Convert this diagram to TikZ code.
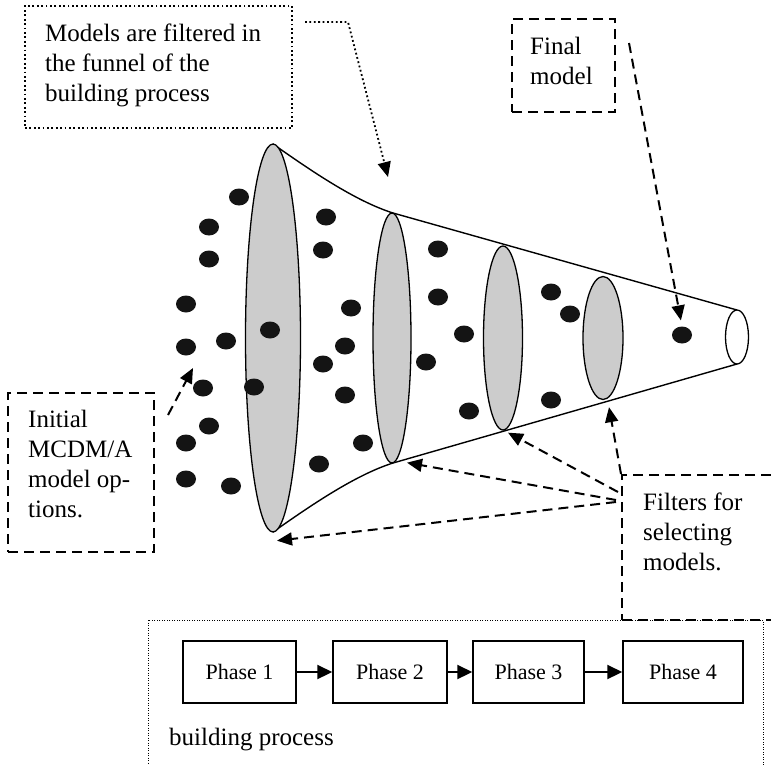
\documentclass[tikz,border=0pt]{standalone}
\usepackage{fontspec}
\setmainfont{Liberation Serif}
\usetikzlibrary{arrows.meta,shapes.geometric}
\begin{document}
\begin{tikzpicture}[x=1pt,y=-1pt,
  outline/.style={line width=1.4pt},
  disc/.style={ellipse, draw=black, line width=1.3pt, fill=black!20, inner sep=0pt},
  opening/.style={ellipse, draw=black, line width=1.3pt, fill=white, inner sep=0pt},
  dot/.style={ellipse, fill=black!92, minimum width=20pt, minimum height=17pt, inner sep=0pt},
  dashbox/.style={draw, line width=2pt, dash pattern=on 10pt off 6pt, inner sep=0pt},
  dotbox/.style={draw, line width=1.8pt, dash pattern=on 1.8pt off 2.6pt, inner sep=0pt},
  finebox/.style={draw, line width=1pt, dash pattern=on 1pt off 1.5pt, inner sep=0pt},
  dasharrow/.style={line width=2pt, dash pattern=on 10pt off 6pt, -{Triangle[length=15pt,width=13pt]}},
  dotarrow/.style={line width=1.8pt, dash pattern=on 1.8pt off 2.6pt, -{Triangle[length=15pt,width=13pt]}},
  caption/.style={font=\fontsize{25}{30}\selectfont, align=left, anchor=base west, inner sep=0pt},
  phase/.style={draw, line width=1.5pt, minimum height=62pt, inner sep=0pt, font=\fontsize{22}{26}\selectfont},
  flow/.style={line width=2.2pt, -{Triangle[length=15pt,width=14pt]}}
]
\useasboundingbox (0,0) rectangle (771,764);
\clip (0,0) rectangle (771,764);

% funnel body
\draw[outline] (273,144) .. controls (310,170) and (355,201) .. (393,213) -- (737,310);
\draw[outline] (273,532) .. controls (310,506) and (355,475) .. (393,463) -- (737,364);

% filter discs and the narrow end
\node[disc, minimum width=55pt, minimum height=388pt] (e1) at (273,338) {};
\node[disc, minimum width=38pt, minimum height=250pt] (e2) at (392,338) {};
\node[disc, minimum width=39pt, minimum height=184pt] (e3) at (503,338) {};
\node[disc, minimum width=40pt, minimum height=123pt] (e4) at (603,338) {};
\node[opening, minimum width=23pt, minimum height=54pt] (tip) at (737,337) {};

% model options
\foreach \x/\y in {239/197, 209/227, 209/259, 186/304, 186/347, 226/341, 270/330,
  203/388, 254/387, 209/426, 186/443, 186/479, 231/486,
  326/217, 323/250, 351/308, 345/346, 323/364, 345/395, 363/443, 319/464,
  438/249, 438/297, 464/334, 426/362, 469/411,
  551/292, 570/314, 551/400}
  \node[dot] at (\x,\y) {};
\node[dot] (fm) at (682,335) {};

% callout: funnel (text anchored at the baseline of its last line)
\node[dotbox, minimum width=267pt, minimum height=122pt] (funbox) at (158.5,67) {};
\node[caption] (funtxt) at (45,101) {Models are filtered in\\the funnel of the\\building process};
\coordinate (fa) at (305,22);
\coordinate (fb) at (348,22);
\coordinate (fc) at (388,177);
\draw[dotarrow] (fa) -- (fb) -- (fc);

% callout: final model
\node[dashbox, minimum width=103pt, minimum height=93pt] (finbox) at (563.5,65.5) {};
\node[caption] (fintxt) at (530,84) {Final\\model};
\coordinate (ma) at (629,43);
\draw[dasharrow, shorten >=6pt] (ma) -- (fm.north);

% callout: initial options
\node[dashbox, minimum width=146pt, minimum height=159pt] (inibox) at (81,472.5) {};
\node[caption] (initxt) at (28,517) {Initial\\MCDM/A\\model op-\\tions.};
\coordinate (ia) at (168,415);
\coordinate (ib) at (193,368);
\draw[dasharrow] (ia) -- (ib);

% callout: filters
\node[dashbox, minimum width=178pt, minimum height=145pt] (filbox) at (711,547.5) {};
\node[caption] (filtxt) at (643,570) {Filters for\\selecting\\models.};
\coordinate (s4) at (621,474);
\coordinate (s3) at (618,492);
\coordinate (s2) at (616,500);
\coordinate (s1) at (616,502);
\draw[dasharrow] (s4) -- ([xshift=6pt,yshift=-7pt]e4.south);
\draw[dasharrow] (s3) -- ([xshift=5pt,yshift=-2pt]e3.south);
\draw[dasharrow] (s2) -- ([xshift=15pt,yshift=1pt]e2.south);
\draw[dasharrow] (s1) -- ([xshift=4pt,yshift=-8pt]e1.south);

% building process
\node[finebox, minimum width=615pt, minimum height=180pt] (procbox) at (455.5,710) {};
\node[phase, minimum width=113pt] (p1) at (239.5,672) {Phase 1};
\node[phase, minimum width=114pt] (p2) at (390,672) {Phase 2};
\node[phase, minimum width=111pt] (p3) at (528.5,672) {Phase 3};
\node[phase, minimum width=120pt] (p4) at (683,672) {Phase 4};
\draw[flow] (p1) -- (p2);
\draw[flow] (p2) -- (p3);
\draw[flow] (p3) -- (p4);
\node[caption] (proctxt) at (169,745) {building process};
\end{tikzpicture}
\end{document}
